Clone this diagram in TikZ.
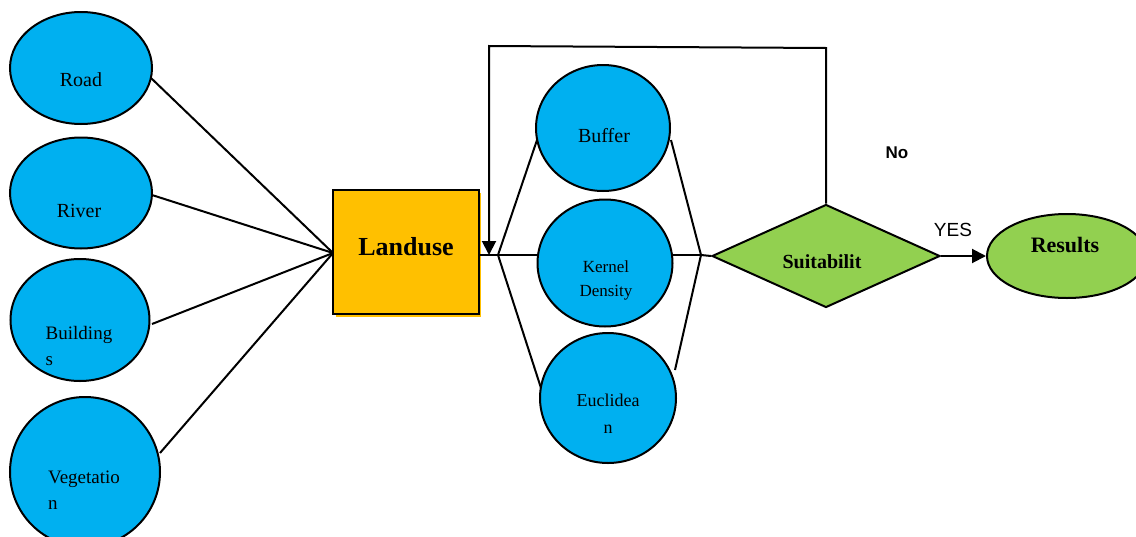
\documentclass[tikz,border=0pt]{standalone}
\usepackage{fontspec}
\setmainfont{Liberation Serif}
\newfontfamily\arialfont{Liberation Sans}
\usetikzlibrary{shapes.geometric,arrows.meta}

\definecolor{blobblue}{RGB}{0,176,240}
\definecolor{boxorange}{RGB}{255,192,0}
\definecolor{leafgreen}{RGB}{146,208,80}

\begin{document}
\begin{tikzpicture}[x=1pt,y=-1pt,line width=2pt]
  \tikzstyle{blob}=[ellipse,draw,fill=blobblue,inner sep=0pt]
  \tikzstyle{txt}=[inner sep=0pt,font=\fontsize{19}{26}\selectfont]
  \tikzstyle{tip}=[-{Triangle[length=14pt,width=14pt]}]
  \useasboundingbox (0,0) rectangle (1136,536);

  % inputs
  \node[blob, minimum width=142, minimum height=112] (road) at (81,68) {};
  \node[blob, minimum width=142, minimum height=111] (river) at (81,193) {};
  \node[blob, minimum width=139, minimum height=122] (build) at (80,320) {};
  \node[blob, minimum width=150, minimum height=150] (veg) at (85,472) {};
  \node[txt, font=\fontsize{20}{26}\selectfont] (roadtxt) at (81,80) {Road};
  \node[txt, font=\fontsize{20}{26}\selectfont] (rivertxt) at (79,211) {River};
  \node[txt, align=left] (buildtxt) at (79,346) {Building\\s};
  \node[txt, align=left] (vegtxt) at (84,490) {Vegetatio\\n};

  % landuse
  \fill[boxorange] (336,193) rectangle (481,317);
  \node[draw, fill=boxorange, minimum width=146, minimum height=124, inner sep=0pt] (land) at (406,252) {};
  \node[txt, font=\fontsize{26}{30}\selectfont\bfseries] (landtxt) at (406,247) {Landuse};

  \coordinate (in) at (333,253);
  \draw (151,78) -- (in);
  \draw (152,195) -- (in);
  \draw (152,324) -- (in);
  \draw (160,453) -- (in);

  % methods
  \node[blob, minimum width=134, minimum height=126] (buffer) at (603,128) {};
  \node[blob, minimum width=135, minimum height=127] (kernel) at (605,263) {};
  \node[blob, minimum width=136, minimum height=130] (eucl) at (608,398) {};
  \node[txt, font=\fontsize{20}{26}\selectfont] (buffertxt) at (604,136) {Buffer};
  \node[txt, align=center, font=\fontsize{17}{24}\selectfont] (kerneltxt) at (606,280) {Kernel\\Density};
  \node[txt, align=center, font=\fontsize{18}{27}\selectfont] (eucltxt) at (608,414) {Euclidea\\n};

  \coordinate (fork) at (498,255);
  \coordinate (join) at (701,255);
  \draw (land.east |- fork) -- (kernel.west |- fork);
  \draw (fork) -- (537,140);
  \draw (fork) -- (541,388);
  \draw (671,140) -- (join) -- (675,370);
  \draw (673,255) -- (join);

  % decision
  \node[diamond, draw, fill=leafgreen, minimum width=228, minimum height=103, inner sep=0pt, aspect=2.2] (suit) at (826,256) {};
  \node[txt, font=\fontsize{20}{24}\selectfont\bfseries] (suittxt) at (822,262) {Suitabilit};
  \draw (join) -- (suit.west);

  \node[ellipse, draw, fill=leafgreen, minimum width=160, minimum height=84, inner sep=0pt] (res) at (1067,256) {};
  \node[txt, font=\fontsize{22}{26}\selectfont\bfseries] (restxt) at (1065,245) {Results};
  \draw[tip] (suit.east) -- (res.west);
  \node[txt, font=\arialfont\fontsize{19}{22}\selectfont] (yes) at (953,230) {YES};
  \node[txt, font=\arialfont\fontsize{17}{22}\selectfont\bfseries] (no) at (897,153) {No};

  % feedback loop
  \coordinate (up) at (826,48);
  \coordinate (back) at (489,46);
  \draw[tip] (suit.north) -- (up) -- (back) -- (489,255);
\end{tikzpicture}
\end{document}
